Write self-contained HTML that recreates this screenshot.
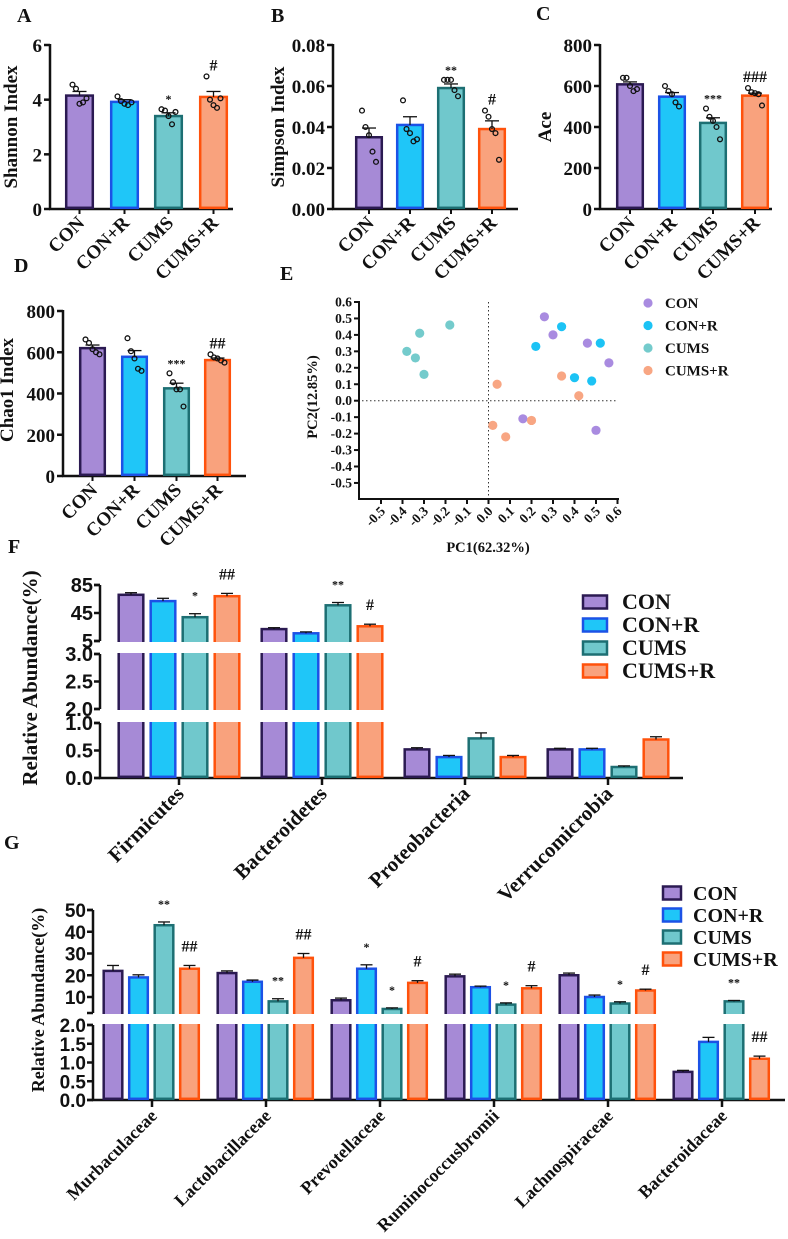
<!DOCTYPE html>
<html><head><meta charset="utf-8"><style>
html,body{margin:0;padding:0;background:#fff;}
svg{display:block;font-family:"Liberation Serif",serif;font-weight:bold;}
</style></head><body>
<svg id="fig" width="788" height="1239" viewBox="0 0 788 1239" xmlns="http://www.w3.org/2000/svg"></svg>
<script>
// ---------- data ----------
const groups = ["CON","CON+R","CUMS","CUMS+R"];
const fills = ["#a68ad6","#1fc6f8","#70c8cc","#f9a27d"];
const strokes = ["#2b1a52","#1c52e6","#1d6f73","#ff520c"];
const pcaColors = ["#a98be0","#1cc3f5","#74cbcc","#f8a683"];

const shannonMean = [4.15,3.92,3.4,4.1];
const shannonSem = [0.15,0.08,0.12,0.2];
const shannonPts = [[4.55,4.4,3.85,3.9,4.05],[4.12,3.95,3.85,3.8,3.9],[3.65,3.6,3.4,3.1,3.55],[4.85,4.0,3.8,3.7,4.05]];
const shannonSig = ["","","*","#"];
const shannonTicks = [0,2,4,6];

const simpsonMean = [0.035,0.041,0.059,0.039];
const simpsonSem = [0.0045,0.004,0.002,0.004];
const simpsonPts = [[0.048,0.04,0.036,0.028,0.023],[0.053,0.039,0.037,0.033,0.034],[0.063,0.063,0.063,0.058,0.055],[0.048,0.045,0.039,0.037,0.024]];
const simpsonSig = ["","","**","#"];
const simpsonTicks = [0,0.02,0.04,0.06,0.08];

const aceMean = [608,548,420,553];
const aceSem = [12,20,25,12];
const acePts = [[640,640,600,575,585],[600,575,560,520,500],[490,450,430,400,340],[590,570,565,560,505]];
const aceSig = ["","","***","###"];
const aceTicks = [0,200,400,600,800];

const chaoMean = [620,578,425,562];
const chaoSem = [15,30,25,10];
const chaoPts = [[662,645,615,600,590],[668,605,570,520,510],[498,455,420,420,337],[590,575,570,560,550]];
const chaoSig = ["","","***","##"];

const pcaCON = [[0.26,0.51],[0.30,0.40],[0.46,0.35],[0.56,0.23],[0.16,-0.11],[0.50,-0.18]];
const pcaCONR = [[0.34,0.45],[0.22,0.33],[0.52,0.35],[0.40,0.14],[0.48,0.12]];
const pcaCUMS = [[-0.18,0.46],[-0.32,0.41],[-0.38,0.30],[-0.34,0.26],[-0.30,0.16]];
const pcaCUMSR = [[0.04,0.10],[0.34,0.15],[0.42,0.03],[0.02,-0.15],[0.20,-0.12],[0.08,-0.22]];
const pcaTicks = [-0.5,-0.4,-0.3,-0.2,-0.1,0.0,0.1,0.2,0.3,0.4,0.5,0.6];

const phylaCats = ["Firmicutes","Bacteroidetes","Proteobacteria","Verrucomicrobia"];
const phylaMean = [[71,62,39,69],[22,16,56,26],[0.52,0.38,0.72,0.38],[0.52,0.52,0.2,0.7]];
const phylaSem = [[3,4,5,4],[2,2,4,3],[0.03,0.03,0.1,0.03],[0.02,0.02,0.02,0.05]];
const phylaSig = [["","","*","##"],["","","**","#"],["","","",""],["","","",""]];

const famCats = ["Murbaculaceae","Lactobacillaceae","Prevotellaceae","Ruminococcusbromii","Lachnospiraceae","Bacteroidaceae"];
const famMean = [[22,19,43,23],[21,17,8,28],[8.5,23,4.5,16.5],[19.5,14.5,6.5,14],[20,10,7,13],[0.75,1.55,8,1.1]];
const famSem = [[2.5,1.2,1.5,1.5],[1,0.8,1.2,2],[1,1.8,0.5,1],[1,0.5,0.8,1.2],[1,0.9,0.8,0.6],[0.04,0.12,0.4,0.07]];
const famSig = [["","","**","##"],["","","**","##"],["","*","*","#"],["","","*","#"],["","","*","#"],["","*","**","##"]];

// ---------- helpers ----------
const svg = document.getElementById('fig');
const NS = "http://www.w3.org/2000/svg";
function mk(tag, attrs, parent){
  const e = document.createElementNS(NS, tag);
  for (const k in attrs) e.setAttribute(k, attrs[k]);
  (parent||svg).appendChild(e);
  return e;
}
function txt(s, x, y, size, anchor, parent, rot){
  const t = mk('text', {x:x, y:y, 'font-size':size, 'text-anchor':anchor||'start', fill:'#111'}, parent);
  if (rot) t.setAttribute('transform', 'rotate('+rot+' '+x+' '+y+')');
  t.textContent = s;
  return t;
}
function group(name){
  const g = mk('g', {});
  
  
  return g;
}
function panelLabel(s, x, y){
  const t = txt(s, x, y, 20, 'start');
  
  
}

function barPanel(cfg){
  const g = group(cfg.name);
  const sc = v => cfg.y0 - (v - cfg.vmin) / (cfg.vmax - cfg.vmin) * (cfg.y0 - cfg.yTop);
  mk('line', {x1:cfg.ax, y1:cfg.yTop-1, x2:cfg.ax, y2:cfg.y0, stroke:'#111','stroke-width':2.5}, g);
  mk('line', {x1:cfg.ax-1, y1:cfg.y0, x2:cfg.xEnd, y2:cfg.y0, stroke:'#111','stroke-width':2.5}, g);
  cfg.ticks.forEach(t => {
    const y = sc(t);
    mk('line', {x1:cfg.ax-6, y1:y, x2:cfg.ax, y2:y, stroke:'#111','stroke-width':2.5}, g);
    const l = txt(cfg.fmt(t), cfg.ax-8, y+7, 19, 'end', g);
    
    
  });
  const yt = txt(cfg.title, cfg.titleX, cfg.titleY, 19, 'middle', g, -90);
  
  
  cfg.mean.forEach((m, i) => {
    const x = cfg.bx[i], w = cfg.bw, cx = x + w/2;
    const r = mk('rect', {x:x+1.2, y:sc(m), width:w-2.4, height:cfg.y0-sc(m)-1.2, fill:fills[i], stroke:strokes[i], 'stroke-width':2.5}, g);
    
    
    const ye = sc(m + cfg.sem[i]);
    mk('line', {x1:cx, y1:sc(m), x2:cx, y2:ye, stroke:'#111','stroke-width':1.3}, g);
    mk('line', {x1:cx-7, y1:ye, x2:cx+7, y2:ye, stroke:'#111','stroke-width':1.3}, g);
    const offs = [-7,-3.5,0,3.5,7];
    let top = ye;
    cfg.pts[i].forEach((p, j) => {
      const py = sc(p);
      top = Math.min(top, py);
      const c = mk('circle', {cx:cx+offs[j], cy:py, r:2.4, fill:'none', stroke:'#111','stroke-width':1.3}, g);
      
      
    });
    if (cfg.sig[i]) {
      const s = txt(cfg.sig[i], cx, top - 6, cfg.sig[i][0]=='#'?16:12, 'middle', g);
      
      
    }
    mk('line', {x1:cx, y1:cfg.y0, x2:cx, y2:cfg.y0+5, stroke:'#111','stroke-width':2}, g);
    const xl = txt(groups[i], cx+6, cfg.y0+15, 19, 'end', g, -45);
    
    
  });
}

// ---------- panels A-D ----------
panelLabel('A', 17, 22);
barPanel({name:'shannon-chart', ax:50, y0:209, yTop:45, vmin:0, vmax:6, xEnd:233, ticks:shannonTicks, fmt:v=>String(v),
  title:'Shannon Index', titleX:17, titleY:127, mean:shannonMean, sem:shannonSem, pts:shannonPts, sig:shannonSig,
  bx:[65,110,154,199], bw:29});
panelLabel('B', 271, 22);
barPanel({name:'simpson-chart', ax:333, y0:209, yTop:45, vmin:0, vmax:0.08, xEnd:518, ticks:simpsonTicks, fmt:v=>v.toFixed(2),
  title:'Simpson Index', titleX:284, titleY:127, mean:simpsonMean, sem:simpsonSem, pts:simpsonPts, sig:simpsonSig,
  bx:[355,396,437,478], bw:28});
panelLabel('C', 536, 20);
barPanel({name:'ace-chart', ax:600, y0:209, yTop:45, vmin:0, vmax:800, xEnd:772, ticks:aceTicks, fmt:v=>String(v),
  title:'Ace', titleX:551, titleY:127, mean:aceMean, sem:aceSem, pts:acePts, sig:aceSig,
  bx:[616,658,699,741], bw:28});
panelLabel('D', 14, 272);
barPanel({name:'chao1-chart', ax:63, y0:476, yTop:311, vmin:0, vmax:800, xEnd:246, ticks:aceTicks, fmt:v=>String(v),
  title:'Chao1 Index', titleX:13, titleY:390, mean:chaoMean, sem:chaoSem, pts:chaoPts, sig:chaoSig,
  bx:[79,121,163,204], bw:27});

// ---------- panel E (PCA) ----------
panelLabel('E', 280, 280);
(function(){
  const g = group('pca-chart');
  const xs = v => 488.5 + v * 215;
  const ys = v => 400.7 - v * 164.5;
  mk('line', {x1:359, y1:301, x2:359, y2:499, stroke:'#111','stroke-width':2}, g);
  mk('line', {x1:358, y1:499, x2:619, y2:499, stroke:'#111','stroke-width':2}, g);
  mk('line', {x1:362, y1:ys(0), x2:616, y2:ys(0), stroke:'#333','stroke-width':1,'stroke-dasharray':'1.5,2.5'}, g);
  mk('line', {x1:xs(0), y1:302, x2:xs(0), y2:497, stroke:'#333','stroke-width':1,'stroke-dasharray':'1.5,2.5'}, g);
  pcaTicks.forEach(t => {
    const y = ys(t);
    mk('line', {x1:354, y1:y, x2:359, y2:y, stroke:'#111','stroke-width':2}, g);
    const l = txt(t.toFixed(1), 352, y+4.5, 13.5, 'end', g);
    
    
    const x = xs(t);
    mk('line', {x1:x, y1:499, x2:x, y2:504, stroke:'#111','stroke-width':2}, g);
    const xl = txt(t.toFixed(1), x+5, 512, 13.5, 'end', g, -45);
    
    
  });
  const xt = txt('PC1(62.32%)', 488, 552, 14.5, 'middle', g);
  
  
  const yt = txt('PC2(12.85%)', 317, 397, 14.5, 'middle', g, -90);
  
  
  [pcaCON, pcaCONR, pcaCUMS, pcaCUMSR].forEach((arr, i) => {
    arr.forEach(p => {
      const c = mk('circle', {cx:xs(p[0]), cy:ys(p[1]), r:4.6, fill:pcaColors[i]}, g);
      
      
    });
    const ly = 303 + i*22.5;
    const lc = mk('circle', {cx:648, cy:ly, r:4.6, fill:pcaColors[i]}, g);
    
    
    const lt = txt(groups[i], 665, ly+5, 15, 'start', g);
    
    
  });
})();

// ---------- broken-axis bar chart helper ----------
function brokenPanel(cfg){
  const g = group(cfg.name);
  const sc = cfg.sc;
  cfg.segs.forEach(s => {
    mk('line', {x1:cfg.ax, y1:s[0], x2:cfg.ax, y2:s[1], stroke:'#111','stroke-width':2.5}, g);
    mk('line', {x1:cfg.ax-6, y1:s[0], x2:cfg.ax, y2:s[0], stroke:'#111','stroke-width':2.5}, g);
    mk('line', {x1:cfg.ax-6, y1:s[1], x2:cfg.ax, y2:s[1], stroke:'#111','stroke-width':2.5}, g);
  });
  mk('line', {x1:cfg.ax-1, y1:cfg.y0, x2:cfg.xEnd, y2:cfg.y0, stroke:'#111','stroke-width':2.5}, g);
  cfg.ticks.forEach((t, k) => {
    const y = sc(t);
    mk('line', {x1:cfg.ax-6, y1:y, x2:cfg.ax, y2:y, stroke:'#111','stroke-width':2.5}, g);
    const l = txt(cfg.tickText[k], cfg.ax-7, y+7, cfg.tickSize, 'end', g);
    l.setAttribute('font-family', '"Liberation Sans", sans-serif');
    
    
  });
  const yt = txt('Relative Abundance(%)', cfg.titleX, cfg.titleY, cfg.titleSize, 'middle', g, -90);
  
  
  cfg.cats.forEach((cat, gi) => {
    const c = cfg.c0 + gi * cfg.step;
    cfg.mean[gi].forEach((m, i) => {
      const x = c + cfg.offs[i] - cfg.bw/2;
      const r = mk('rect', {x:x+1.2, y:sc(m), width:cfg.bw-2.4, height:cfg.y0-sc(m)-1.2, fill:fills[i], stroke:strokes[i], 'stroke-width':2.5}, g);
      
      
      const cx = c + cfg.offs[i];
      const ye = sc(m + cfg.sem[gi][i]);
      mk('line', {x1:cx, y1:sc(m), x2:cx, y2:ye, stroke:'#111','stroke-width':1.3}, g);
      mk('line', {x1:cx-6, y1:ye, x2:cx+6, y2:ye, stroke:'#111','stroke-width':1.3}, g);
      const sig = cfg.sig[gi][i];
      if (sig) {
        const s = txt(sig, cx, ye - 14, sig[0]=='#'?16:12, 'middle', g);
        
        
      }
    });
    mk('line', {x1:c, y1:cfg.y0, x2:c, y2:cfg.y0+7, stroke:'#111','stroke-width':2.5}, g);
    const xl = txt(cat, c+6, cfg.y0+17, cfg.labelSize, 'end', g, -45);
    
    
  });
  cfg.gaps.forEach(gp => {
    mk('rect', {x:cfg.ax+2, y:gp[0], width:cfg.xEnd-cfg.ax, height:gp[1]-gp[0], fill:'#fff'}, g);
  });
  groups.forEach((name, i) => {
    const ly = cfg.legY + i * cfg.legStep;
    const b = mk('rect', {x:cfg.legX, y:ly-6.5, width:cfg.legW, height:13, fill:fills[i], stroke:strokes[i], 'stroke-width':2.5}, g);
    
    
    const t = txt(name, cfg.legTX, ly+7, cfg.legSize, 'start', g);
    
    
  });
}

// ---------- panel F ----------
panelLabel('F', 8, 553);
brokenPanel({name:'phylum-abundance-chart', ax:100, y0:778, xEnd:683,
  sc: v => v <= 1.5 ? 778 - v*55 : (v <= 4 ? 709 - (v-2)*55 : 641 - (v-5)*0.7),
  segs:[[585,641],[654,709],[723,778]], gaps:[[642,653],[710,722]],
  ticks:[0,0.5,1,2,2.5,3,5,45,85], tickText:['0.0','0.5','1.0','2.0','2.5','3.0','5','45','85'], tickSize:20,
  titleX:37, titleY:678, titleSize:21,
  cats:phylaCats, mean:phylaMean, sem:phylaSem, sig:phylaSig,
  c0:179, step:143, offs:[-48,-16,16,48], bw:27, labelSize:21,
  legX:583, legW:24, legY:602, legStep:23, legTX:622, legSize:22});

// ---------- panel G ----------
panelLabel('G', 4, 849);
brokenPanel({name:'family-abundance-chart', ax:93, y0:1100, xEnd:785,
  sc: v => v <= 2.3 ? 1100 - v*37.5 : 997 - (v-10)*2.175,
  segs:[[910,1013],[1025,1100]], gaps:[[1014,1024]],
  ticks:[0,0.5,1,1.5,2,10,20,30,40,50], tickText:['0.0','0.5','1.0','1.5','2.0','10','20','30','40','50'], tickSize:19,
  titleX:44, titleY:1000, titleSize:18,
  cats:famCats, mean:famMean, sem:famSem, sig:famSig,
  c0:152, step:114, offs:[-39,-13.5,12,37.5], bw:21, labelSize:18,
  legX:663, legW:18, legY:893, legStep:22, legTX:693, legSize:20});
</script>
</body></html>
